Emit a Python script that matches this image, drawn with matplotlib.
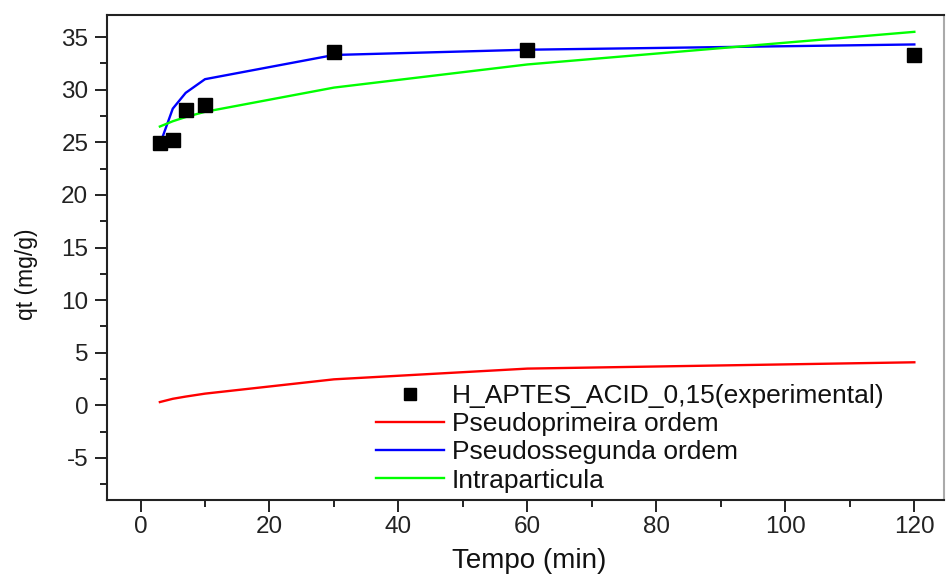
import matplotlib
matplotlib.use("Agg")
import matplotlib.pyplot as plt
from matplotlib.ticker import MultipleLocator

plt.rcParams['font.family'] = ['Liberation Sans', 'DejaVu Sans']
plt.rcParams['axes.unicode_minus'] = False

# Adsorption kinetics data
tempo = [3, 5, 7, 10, 30, 60, 120]
qt_experimental = [24.9, 25.2, 28.1, 28.5, 33.6, 33.8, 33.3]
qt_pseudo_primeira = [0.31, 0.62, 0.83, 1.11, 2.47, 3.49, 4.09]
qt_pseudo_segunda = [24.8, 28.2, 29.7, 31.0, 33.3, 33.8, 34.3]
qt_intraparticula = [26.5, 27.0, 27.4, 27.9, 30.2, 32.4, 35.5]

label_exp = "H_APTES_ACID_0,15(experimental)"
label_pf = "Pseudoprimeira ordem"
label_ps = "Pseudossegunda ordem"
label_ip = "Intraparticula"

W, H = 946, 581
fig = plt.figure(figsize=(W / 100, H / 100), dpi=100)
ax = fig.add_axes([107 / W, 1 - 500 / H, (944 - 107) / W, (500 - 15) / H])

ax.plot(tempo, qt_experimental, linestyle='none', marker='s', markersize=9.5,
        color='black', label=label_exp, zorder=4)
ax.plot(tempo, qt_pseudo_primeira, color='#ff0000', lw=1.7, label=label_pf)
ax.plot(tempo, qt_pseudo_segunda, color='#0000ff', lw=1.7, label=label_ps)
ax.plot(tempo, qt_intraparticula, color='#00ff00', lw=1.7, label=label_ip)

ax.set_xlim(-5.2, 124.6)
ax.set_ylim(-9.0, 37.1)

ax.xaxis.set_major_locator(MultipleLocator(20))
ax.xaxis.set_minor_locator(MultipleLocator(10))
ax.yaxis.set_major_locator(MultipleLocator(5))
ax.yaxis.set_minor_locator(MultipleLocator(2.5))

ax.tick_params(which='both', direction='out', top=False, right=False,
               color='#222222', width=1.4)
ax.tick_params(which='major', length=8.5, labelsize=17.5,
               labelcolor='#222222')
ax.tick_params(axis='x', which='major', pad=3)
ax.tick_params(axis='y', which='major', pad=5)
ax.tick_params(which='minor', length=5)

for sp in ax.spines.values():
    sp.set_linewidth(1.5)
    sp.set_color('#222222')
ax.spines['right'].set_color('#aaaaaa')

ax.set_xlabel("Tempo (min)", fontsize=20, color='#111111')
ax.xaxis.set_label_coords(0.504, (500 - 548) / 485)
ax.set_ylabel("qt (mg/g)", fontsize=16.5, color='#111111')
ax.yaxis.set_label_coords((38 - 107) / 837, 1 - (274 - 15) / 485)

fs_leg = 19
leg = ax.legend(loc='upper left', bbox_to_anchor=(376 / W, 1 - 384 / H),
                bbox_transform=fig.transFigure, frameon=False, fontsize=fs_leg,
                handlelength=2.58, handletextpad=0.3, labelspacing=0.16,
                borderpad=0, borderaxespad=0, markerscale=0.85)
for t in leg.get_texts():
    t.set_color('#111111')

fig.savefig("out.png", dpi=100)
